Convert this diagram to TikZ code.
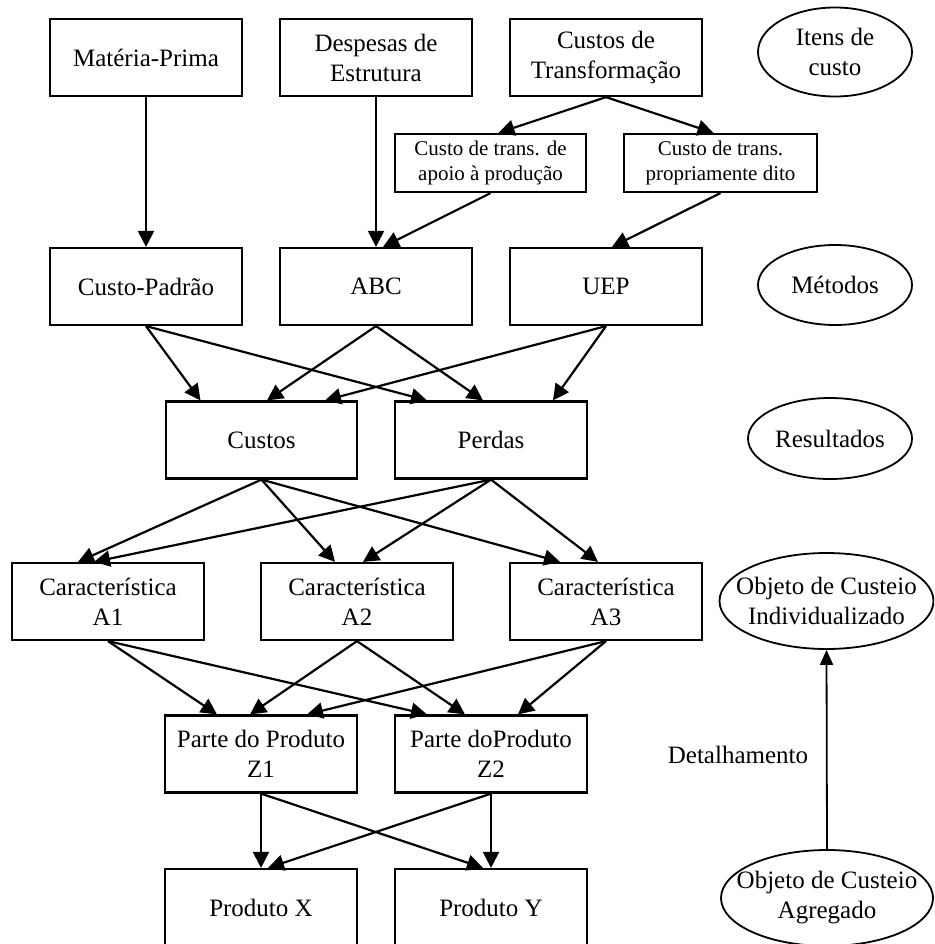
\documentclass[tikz,border=0pt]{standalone}
\usepackage{fontspec}
\setmainfont{Liberation Serif}
\usetikzlibrary{arrows.meta,shapes.geometric}

\tikzset{
  box/.style={draw, line width=2.2pt, rectangle, minimum width=192pt, minimum height=77pt,
              inner sep=0pt, align=center, font=\fontsize{25}{30}\selectfont},
  smallbox/.style={box, minimum height=58pt, font=\fontsize{21}{25}\selectfont},
  oval/.style={draw, line width=1.8pt, ellipse, inner sep=0pt},
  ovaltext/.style={align=center, font=\fontsize{25}{30}\selectfont},
  link/.style={line width=2.2pt, -{Triangle[length=16pt,width=16pt]}},
}

\begin{document}
\begin{tikzpicture}[x=1pt,y=-1pt]
\useasboundingbox (0,0) rectangle (934,944);
\clip (0,0) rectangle (934,944);

% cost items
\node[box] (mp) at (146,57.5) {Matéria-Prima};
\node[box] (de) at (376,57.5) {Despesas de\\Estrutura};
\node[box] (tr) at (606,57.5) {Custos de\\Transformação};
\node[smallbox, minimum width=191pt] (ap) at (490.5,163) {Custo de trans. de\\apoio à produção};
\node[smallbox, minimum width=193pt] (pd) at (720.5,163) {Custo de trans.\\propriamente dito};

% methods
\node[box] (cp)  at (146,286.5) {Custo-Padrão};
\node[box] (abc) at (376,286.5) {ABC};
\node[box] (uep) at (606,286.5) {UEP};

% results
\node[box, minimum width=191pt] (cu) at (261.5,440) {Custos};
\node[box] (pe) at (491,440) {Perdas};

% characteristics
\node[box] (a1) at (108,601.5) {Característica\\A1};
\node[box] (a2) at (357,601.5) {Característica\\A2};
\node[box] (a3) at (606,601.5) {Característica\\A3};

% product parts
\node[box] (z1) at (261,754) {Parte do Produto\\Z1};
\node[box] (z2) at (491,754) {Parte doProduto\\Z2};

% products
\node[box] (px) at (261,907.5) {Produto X};
\node[box] (py) at (491,907.5) {Produto Y};

% level labels
\node[oval, minimum width=154pt, minimum height=89pt] (itens) at (835,52) {};
\node[ovaltext] at (itens) {Itens de\\custo};
\node[oval, minimum width=154pt, minimum height=80pt] (met) at (835,285) {};
\node[ovaltext] at (met) {Métodos};
\node[oval, minimum width=164pt, minimum height=81pt] (res) at (830,438.5) {};
\node[ovaltext] at (res) {Resultados};
\node[oval, minimum width=214pt, minimum height=96pt] (ind) at (826.5,601) {};
\node[ovaltext] at (ind) {Objeto de Custeio\\Individualizado};
\node[oval, minimum width=212pt, minimum height=96pt] (agr) at (827,898) {};
\node[ovaltext] at (agr) {Objeto de Custeio\\Agregado};
\node[ovaltext] (det) at (738,755) {Detalhamento};

% item -> method
\draw[link] (mp.south) -- (cp.north);
\draw[link] (de.south) -- (abc.north);
\draw[link] (tr.south) -- ([xshift=8pt]ap.north);
\draw[link] (tr.south) -- ([xshift=-7pt]pd.north);
\draw[link] (ap.south) -- ([xshift=7pt]abc.north);
\draw[link] (pd.south) -- ([xshift=6pt]uep.north);

% method -> result
\draw[link] (cp.south)  -- ([xshift=-61pt]cu.north);
\draw[link] (cp.south)  -- ([xshift=-64pt]pe.north);
\draw[link] (abc.south) -- ([xshift=5.5pt]cu.north);
\draw[link] (abc.south) -- ([xshift=-8pt]pe.north);
\draw[link] (uep.south) -- ([xshift=63.5pt]cu.north);
\draw[link] (uep.south) -- ([xshift=62pt]pe.north);

% result -> characteristic
\draw[link] (cu.south) -- ([xshift=-30pt]a1.north);
\draw[link] (cu.south) -- ([xshift=-22pt]a2.north);
\draw[link] (cu.south) -- ([xshift=-46pt]a3.north);
\draw[link] (pe.south) -- ([xshift=-14pt]a1.north);
\draw[link] (pe.south) -- ([xshift=6pt]a2.north);
\draw[link] (pe.south) -- ([xshift=-8pt]a3.north);

% characteristic -> product part
\draw[link] (a1.south) -- ([xshift=-44pt]z1.north);
\draw[link] (a1.south) -- ([xshift=-64pt]z2.north);
\draw[link] (a2.south) -- ([xshift=-11pt]z1.north);
\draw[link] (a2.south) -- ([xshift=-26pt]z2.north);
\draw[link] (a3.south) -- ([xshift=46pt]z1.north);
\draw[link] (a3.south) -- ([xshift=27pt]z2.north);

% product part -> product
\draw[link] (z1.south) -- (px.north);
\draw[link] (z1.south) -- ([xshift=-8pt]py.north);
\draw[link] (z2.south) -- ([xshift=7pt]px.north);
\draw[link] (z2.south) -- (py.north);

% detailing direction
\draw[line width=1.8pt, -{Triangle[length=15pt,width=13pt]}] (agr.north) -- (ind.south);
\end{tikzpicture}
\end{document}
